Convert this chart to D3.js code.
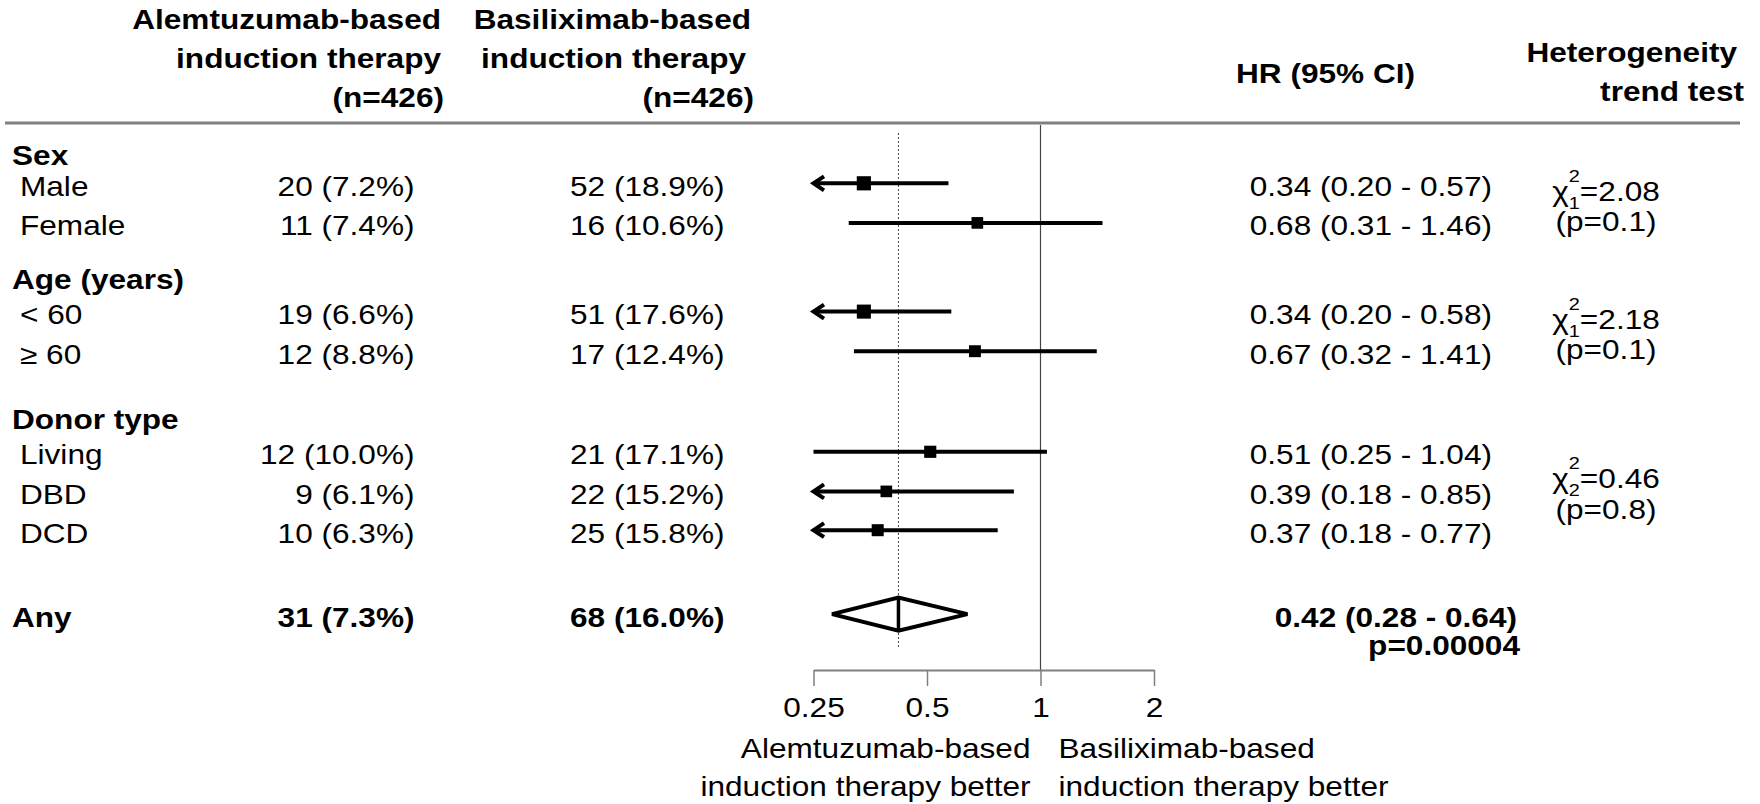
<!DOCTYPE html>
<html><head><meta charset="utf-8">
<script src="https://cdn.jsdelivr.net/npm/d3@7"></script>
<style>html,body{margin:0;padding:0;background:#fff;} svg{display:block;}</style>
</head><body>
<svg id="chart" width="1760" height="804"></svg>
<script>
// ---------------- DATA ----------------
const groups = ["Sex", "Age (years)", "Donor type"];
const subgroups = ["Male", "Female", "< 60", "\u2265 60", "Living", "DBD", "DCD"];
const subgroupOf = [0, 0, 1, 1, 2, 2, 2];
const alemEvents = [20, 11, 19, 12, 12, 9, 10];
const alemPct = [7.2, 7.4, 6.6, 8.8, 10.0, 6.1, 6.3];
const basiEvents = [52, 16, 51, 17, 21, 22, 25];
const basiPct = [18.9, 10.6, 17.6, 12.4, 17.1, 15.2, 15.8];
const hr = [0.34, 0.68, 0.34, 0.67, 0.51, 0.39, 0.37];
const hrLow = [0.20, 0.31, 0.20, 0.32, 0.25, 0.18, 0.18];
const hrHigh = [0.57, 1.46, 0.58, 1.41, 1.04, 0.85, 0.77];
const hetDf = [1, 1, 2];
const hetChi = ["2.08", "2.18", "0.46"];
const hetP = ["0.1", "0.1", "0.8"];
const overallLabel = "Any";
const overallEvents = [31, 68];
const overallPct = [7.3, 16.0];
const overallHR = [0.42, 0.28, 0.64];
const overallP = "0.00004";
const alemHeader = ["Alemtuzumab-based", "induction therapy", "(n=426)"];
const basiHeader = ["Basiliximab-based", "induction therapy", "(n=426)"];
const hrHeader = "HR (95% CI)";
const hetHeader = ["Heterogeneity", "trend test"];
const axisTicks = [0.25, 0.5, 1, 2];
const axisLabelLeft = ["Alemtuzumab-based", "induction therapy better"];
const axisLabelRight = ["Basiliximab-based", "induction therapy better"];

// ---------------- LAYOUT ----------------
const SX = 1.17, FS = 27, SMALL = 17;
const FONT = "'Liberation Sans', Arial, Helvetica, sans-serif";
const groupRowPos = [-0.75, 2.39, 5.92];
const subRowPos = [0, 1, 3.24, 4.24, 6.78, 7.78, 8.76];
const overallRowPos = 10.88;
const BASE = 12.5;

const svg = d3.select("#chart").attr("font-family", FONT);
svg.append("rect").attr("width", 1760).attr("height", 804).attr("fill", "#fff");

const y = d3.scaleLinear().domain([0, 1]).range([183.3, 222.9]);
const x = d3.scaleLog().base(2).domain([0.25, 2]).range([813.5, 1154]);
const boxScale = d3.scalePow().exponent(-0.5).domain([1, 2]).range([14.5, 14.5 / Math.SQRT2]);

function T(px, py, s, opt = {}) {
  return svg.append("text")
    .attr("transform", `translate(${px},${py}) scale(${SX},1)`)
    .attr("text-anchor", opt.anchor || "start")
    .attr("font-weight", opt.bold ? "bold" : "normal")
    .attr("font-size", opt.size || FS)
    .attr("fill", "#000")
    .text(s);
}
const fmtN = (n, p) => `${n} (${p.toFixed(1)}%)`;
const fmtHR = (h, l, u) => `${h.toFixed(2)} (${l.toFixed(2)} - ${u.toFixed(2)})`;

// ---------------- HEADER ----------------
const hdrBase = [28.5, 67.5, 106.5];
const alemHdrX = [441, 441, 444];
const basiHdrX = [751, 746, 754];
alemHeader.forEach((s, i) => T(alemHdrX[i], hdrBase[i], s, {anchor: "end", bold: true}));
basiHeader.forEach((s, i) => T(basiHdrX[i], hdrBase[i], s, {anchor: "end", bold: true}));
T(1236, 83, hrHeader, {bold: true});
T(1737, 61.5, hetHeader[0], {anchor: "end", bold: true});
T(1744, 101, hetHeader[1], {anchor: "end", bold: true});
svg.append("line").attr("x1", 5).attr("x2", 1740).attr("y1", 123).attr("y2", 123)
  .attr("stroke", "#808080").attr("stroke-width", 3);

// ---------------- REFERENCE LINES ----------------
svg.append("line").attr("x1", x(1)).attr("x2", x(1)).attr("y1", 125).attr("y2", 670)
  .attr("stroke", "#444").attr("stroke-width", 1.2);
svg.append("line").attr("x1", x(overallHR[0])).attr("x2", x(overallHR[0])).attr("y1", 133).attr("y2", 648)
  .attr("stroke", "#444").attr("stroke-width", 1).attr("stroke-dasharray", "2,2");

// ---------------- ROWS ----------------
groups.forEach((g, i) => T(12, y(groupRowPos[i]) + BASE - 1, g, {bold: true}));

subgroups.forEach((s, i) => {
  const cy = y(subRowPos[i]);
  T(20, cy + BASE, s);
  T(414.5, cy + BASE, fmtN(alemEvents[i], alemPct[i]), {anchor: "end"});
  T(724.5, cy + BASE, fmtN(basiEvents[i], basiPct[i]), {anchor: "end"});
  T(1492, cy + BASE, fmtHR(hr[i], hrLow[i], hrHigh[i]), {anchor: "end"});

  const lo = Math.max(hrLow[i], x.domain()[0]);
  const clipped = hrLow[i] < x.domain()[0];
  const x0 = clipped ? x(lo) - 1 : x(lo);
  svg.append("line").attr("x1", x0 + (clipped ? 2 : 0)).attr("x2", x(hrHigh[i])).attr("y1", cy).attr("y2", cy)
    .attr("stroke", "#000").attr("stroke-width", 4);
  if (clipped) {
    svg.append("polyline")
      .attr("points", `${x0 + 11.5},${cy - 7} ${x0 + 1},${cy} ${x0 + 11.5},${cy + 7}`)
      .attr("fill", "none").attr("stroke", "#000").attr("stroke-width", 4)
      .attr("stroke-linejoin", "miter");
  }
  const bs = boxScale(Math.log(hrHigh[i] / hrLow[i]));
  svg.append("rect").attr("x", x(hr[i]) - bs / 2).attr("y", cy - bs / 2)
    .attr("width", bs).attr("height", bs).attr("fill", "#000");
});

// ---------------- HETEROGENEITY ----------------
const hetCx = 1606;
groups.forEach((g, gi) => {
  const idx = subgroupOf.map((v, i) => v === gi ? i : -1).filter(i => i >= 0);
  const ys = idx.map(i => y(subRowPos[i]));
  const mid = (d3.min(ys) + d3.max(ys)) / 2;
  const base = mid - 2.5;
  const chi = T(0, 0, "\u03C7");
  const sup = T(0, 0, "2", {size: SMALL});
  const sub = T(0, 0, String(hetDf[gi]), {size: SMALL});
  const rest = T(0, 0, "=" + hetChi[gi]);
  const w1 = chi.node().getComputedTextLength() * SX;
  const w2 = Math.max(sup.node().getComputedTextLength(), sub.node().getComputedTextLength()) * SX;
  const w3 = rest.node().getComputedTextLength() * SX;
  const xs = hetCx - (w1 + w2 + w3) / 2;
  chi.attr("transform", `translate(${xs},${base}) scale(${SX},1)`);
  sup.attr("transform", `translate(${xs + w1},${base - 19}) scale(${SX},1)`);
  sub.attr("transform", `translate(${xs + w1},${base + 8}) scale(${SX},1)`);
  rest.attr("transform", `translate(${xs + w1 + w2},${base}) scale(${SX},1)`);
  T(hetCx, mid + 28, `(p=${hetP[gi]})`, {anchor: "middle"});
});

// ---------------- OVERALL ----------------
const oy = y(overallRowPos);
T(12, oy + BASE, overallLabel, {bold: true});
T(414.5, oy + BASE, fmtN(overallEvents[0], overallPct[0]), {anchor: "end", bold: true});
T(724.5, oy + BASE, fmtN(overallEvents[1], overallPct[1]), {anchor: "end", bold: true});
T(1517, oy + 13, fmtHR(overallHR[0], overallHR[1], overallHR[2]), {anchor: "end", bold: true});
T(1520, oy + 41, `p=${overallP}`, {anchor: "end", bold: true});
const dh = 16.5;
svg.append("polygon")
  .attr("points", [[x(overallHR[1]), oy], [x(overallHR[0]), oy - dh], [x(overallHR[2]), oy], [x(overallHR[0]), oy + dh]].map(p => p.join(",")).join(" "))
  .attr("fill", "#fff").attr("stroke", "#000").attr("stroke-width", 4).attr("stroke-linejoin", "miter");
svg.append("line").attr("x1", x(overallHR[0])).attr("x2", x(overallHR[0])).attr("y1", oy - dh).attr("y2", oy + dh)
  .attr("stroke", "#000").attr("stroke-width", 3.5);

// ---------------- AXIS ----------------
const axisY = 670;
const axisG = svg.append("g").attr("transform", `translate(0,${axisY})`)
  .call(d3.axisBottom(x).tickValues(axisTicks).tickFormat(d => String(d)).tickSize(16).tickSizeOuter(0));
axisG.select(".domain").attr("stroke", "#808080").attr("stroke-width", 2);
axisG.selectAll(".tick line").attr("stroke", "#808080").attr("stroke-width", 1.5);
axisG.selectAll(".tick text").attr("y", null).attr("dy", null)
  .attr("transform", `translate(0,47) scale(${SX},1)`)
  .attr("font-size", FS).attr("font-family", FONT).attr("fill", "#000");

axisLabelLeft.forEach((s, i) => T(x(1) - 10, 757.5 + i * 38.3, s, {anchor: "end"}));
axisLabelRight.forEach((s, i) => T(x(1) + 18, 757.5 + i * 38.3, s));
</script>
</body></html>
